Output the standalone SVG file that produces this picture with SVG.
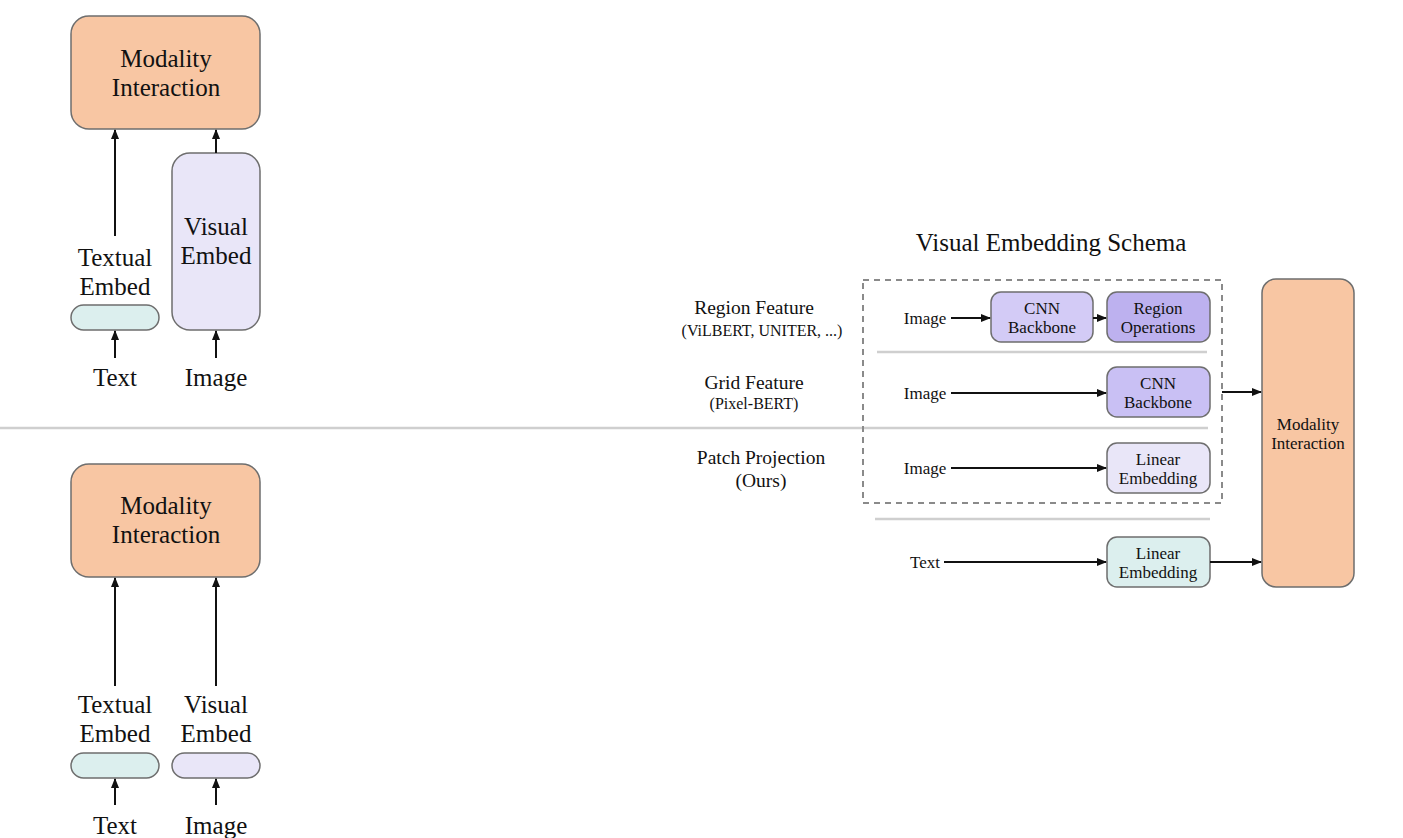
<svg xmlns="http://www.w3.org/2000/svg" width="1403" height="838" viewBox="0 0 1403 838">
<defs>
<marker id="ah" markerWidth="10" markerHeight="10" refX="9" refY="5" orient="auto" markerUnits="userSpaceOnUse"><path d="M0,1 L10,5 L0,9 Z" fill="#111"/></marker>
<style>
text{font-family:"Liberation Serif","Times New Roman",serif;fill:#111;text-anchor:middle}
.big{font-size:25px}
.sm{font-size:17px}
.par{font-size:16px}
.md{font-size:19.5px}
.orange{fill:#f8c6a3;stroke:#6e6e6e;stroke-width:1.5}
.lav{fill:#e9e6f8;stroke:#6e6e6e;stroke-width:1.5}
.cyan{fill:#dcefee;stroke:#6e6e6e;stroke-width:1.5}
.p1{fill:#d3cbf6;stroke:#6e6e6e;stroke-width:1.5}
.p2{fill:#bdb1ef;stroke:#6e6e6e;stroke-width:1.5}
.p3{fill:#c9c0f4;stroke:#6e6e6e;stroke-width:1.5}
.arr{stroke:#111;stroke-width:2;fill:none;marker-end:url(#ah)}
.sep{stroke:#cfcfcf;stroke-width:2.5}
</style>
</defs>
<line class="sep" x1="0" y1="428" x2="1208" y2="428"/>
<line class="sep" x1="877" y1="352" x2="1207" y2="352"/>
<line class="sep" x1="875" y1="519" x2="1210" y2="519"/>
<rect x="863" y="280" width="359" height="223" fill="none" stroke="#8a8a8a" stroke-width="2" stroke-dasharray="6,5"/>

<g id="top-modality"><rect class="orange" x="71" y="16" width="189" height="113" rx="18"/><text class="big" x="166" y="67">Modality</text><text class="big" x="166" y="96">Interaction</text></g>
<g id="top-visual-embed"><rect class="lav" x="172" y="153" width="88" height="177" rx="18"/><text class="big" x="216" y="235">Visual</text><text class="big" x="216" y="264">Embed</text></g>
<g id="top-textual-embed"><rect class="cyan" x="71" y="305" width="88" height="25" rx="12.5"/><text class="big" x="115" y="266">Textual</text><text class="big" x="115" y="295">Embed</text></g>
<g id="top-text"><text class="big" x="115" y="386">Text</text></g>
<g id="top-image"><text class="big" x="216" y="386">Image</text></g>

<g id="bot-modality"><rect class="orange" x="71" y="464" width="189" height="113" rx="18"/><text class="big" x="166" y="514">Modality</text><text class="big" x="166" y="543">Interaction</text></g>
<g id="bot-textual-embed"><rect class="cyan" x="71" y="753" width="88" height="25" rx="12.5"/><text class="big" x="115" y="713">Textual</text><text class="big" x="115" y="742">Embed</text></g>
<g id="bot-visual-embed"><rect class="lav" x="172" y="753" width="88" height="25" rx="12.5"/><text class="big" x="216" y="713">Visual</text><text class="big" x="216" y="742">Embed</text></g>
<g id="bot-text"><text class="big" x="115" y="834">Text</text></g>
<g id="bot-image"><text class="big" x="216" y="834">Image</text></g>

<g id="schema-title"><text x="1051" y="251" style="font-size:25px">Visual Embedding Schema</text></g>
<g id="label-region"><text class="md" x="754" y="314">Region Feature</text><text class="par" x="762" y="336">(ViLBERT, UNITER, ...)</text></g>
<g id="label-grid"><text class="md" x="754" y="389">Grid Feature</text><text class="par" x="754" y="409">(Pixel-BERT)</text></g>
<g id="label-patch"><text class="md" x="761" y="464">Patch Projection</text><text class="md" x="761" y="487">(Ours)</text></g>

<g id="img1"><text class="sm" x="925" y="324">Image</text></g>
<g id="cnn1"><rect class="p1" x="991" y="292" width="102" height="50" rx="10"/><text class="sm" x="1042" y="314">CNN</text><text class="sm" x="1042" y="333">Backbone</text></g>
<g id="region-ops"><rect class="p2" x="1107" y="292" width="103" height="50" rx="10"/><text class="sm" x="1158" y="314">Region</text><text class="sm" x="1158" y="333">Operations</text></g>
<g id="img2"><text class="sm" x="925" y="399">Image</text></g>
<g id="cnn2"><rect class="p3" x="1107" y="367" width="103" height="50" rx="10"/><text class="sm" x="1158" y="389">CNN</text><text class="sm" x="1158" y="408">Backbone</text></g>
<g id="img3"><text class="sm" x="925" y="474">Image</text></g>
<g id="lin-img"><rect class="lav" x="1107" y="443" width="103" height="50" rx="10"/><text class="sm" x="1158" y="465">Linear</text><text class="sm" x="1158" y="484">Embedding</text></g>
<g id="text4"><text class="sm" x="925" y="568">Text</text></g>
<g id="lin-text"><rect class="cyan" x="1107" y="537" width="103" height="50" rx="10"/><text class="sm" x="1158" y="559">Linear</text><text class="sm" x="1158" y="578">Embedding</text></g>
<g id="right-modality"><rect class="orange" x="1262" y="279" width="92" height="308" rx="14"/><text class="sm" x="1308" y="430">Modality</text><text class="sm" x="1308" y="449">Interaction</text></g>

<g id="connectors">
<line class="arr" x1="115" y1="236" x2="115" y2="130"/>
<line class="arr" x1="216" y1="153" x2="216" y2="130"/>
<line class="arr" x1="115" y1="358" x2="115" y2="331"/>
<line class="arr" x1="216" y1="358" x2="216" y2="331"/>
<line class="arr" x1="115" y1="686" x2="115" y2="578"/>
<line class="arr" x1="216" y1="686" x2="216" y2="578"/>
<line class="arr" x1="115" y1="805" x2="115" y2="779"/>
<line class="arr" x1="216" y1="805" x2="216" y2="779"/>
<line class="arr" x1="951" y1="318" x2="990" y2="318"/>
<line class="arr" x1="1093" y1="318" x2="1106" y2="318"/>
<line class="arr" x1="951" y1="393" x2="1106" y2="393"/>
<line class="arr" x1="951" y1="468" x2="1106" y2="468"/>
<line class="arr" x1="944" y1="562" x2="1106" y2="562"/>
<line class="arr" x1="1210" y1="562" x2="1261" y2="562"/>
<line class="arr" x1="1222" y1="392" x2="1261" y2="392"/>
</g>
</svg>
